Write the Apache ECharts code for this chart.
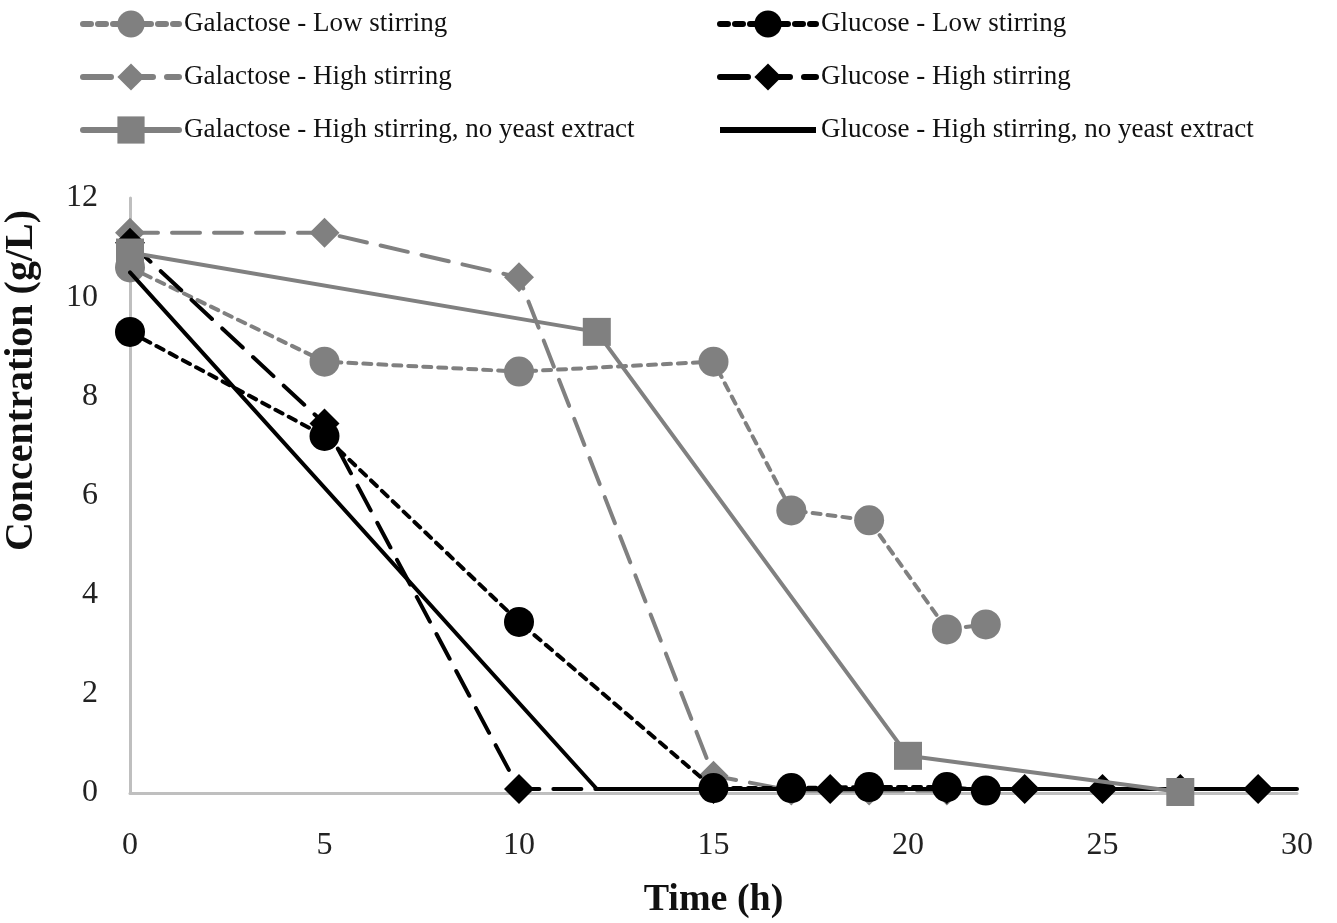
<!DOCTYPE html>
<html>
<head>
<meta charset="utf-8">
<title>Sugar consumption</title>
<script src="https://cdn.jsdelivr.net/npm/echarts@6/dist/echarts.min.js"></script>
<style>
  html, body { margin: 0; padding: 0; background: #fff; }
  #main { width: 1337px; height: 923px; }
</style>
</head>
<body>
<div id="main"></div>
<script>
// time points (h) and concentrations (g/L)
const galLowT = [0, 5, 10, 15, 17, 19, 21, 22]
const galLowC = [10.6, 8.7, 8.5, 8.7, 5.7, 5.5, 3.3, 3.4]

const galHighT = [0, 5, 10, 15, 17, 19, 21]
const galHighC = [11.3, 11.3, 10.4, 0.35, 0.05, 0.05, 0.05]

const galNoYeastT = [0, 12, 20, 27]
const galNoYeastC = [10.9, 9.3, 0.75, 0.02]

const gluLowT = [0, 5, 10, 15, 17, 19, 21, 22]
const gluLowC = [9.3, 7.2, 3.45, 0.1, 0.1, 0.12, 0.12, 0.05]

const gluHighT = [0, 5, 10, 15, 18, 21, 23, 25, 27, 29]
const gluHighC = [11.1, 7.45, 0.08, 0.08, 0.08, 0.08, 0.08, 0.08, 0.08, 0.08]

const gluNoYeastT = [0, 12, 20, 27, 30]
const gluNoYeastC = [10.5, 0.08, 0.08, 0.08, 0.08]

const xTicks = { min: 0, max: 30, step: 5 }
const yTicks = { min: 0, max: 12, step: 2 }

const GREY = '#808080'
const BLACK = '#000000'
const serif = '"Liberation Serif", "DejaVu Serif", serif'
// plain bar used as legend icon for the series that has no markers
const barIcon = 'path://M0,0L100,0L100,6L0,6Z'

function pairs (t, c) {
  return t.map((v, i) => [v, c[i]])
}

function makeSeries (name, t, c, color, dash, symbol, size, z) {
  return {
    name: name,
    type: 'line',
    data: pairs(t, c),
    symbol: symbol,
    symbolSize: size,
    showSymbol: symbol !== 'none',
    z: z,
    clip: false,
    itemStyle: { color: color },
    lineStyle: { color: color, width: 4, type: dash, cap: 'round' },
    emphasis: { disabled: true }
  }
}

function makeLegend (left, names) {
  return {
    orient: 'vertical',
    left: left,
    top: 2,
    itemWidth: 96,
    itemHeight: 34,
    itemGap: 19,
    lineStyle: { width: 6 },
    textStyle: { fontFamily: serif, fontSize: 27, color: '#111', lineHeight: 34 },
    data: names
  }
}

let chart = echarts.init(document.getElementById('main'))
let option = {
  backgroundColor: '#fff',
  animation: false,
  textStyle: { fontFamily: serif },
  legend: [
    makeLegend(75, ['Galactose - Low stirring', 'Galactose - High stirring', 'Galactose - High stirring, no yeast extract']),
    makeLegend(712, ['Glucose - Low stirring', 'Glucose - High stirring',
      { name: 'Glucose - High stirring, no yeast extract', icon: barIcon }])
  ],
  grid: {
    left: 130,
    right: 40,
    top: 198,
    bottom: 130,
    outerBoundsMode: 'none'
  },
  xAxis: {
    type: 'value',
    min: xTicks.min,
    max: xTicks.max,
    interval: xTicks.step,
    name: 'Time (h)',
    nameLocation: 'middle',
    nameGap: 88,
    nameTextStyle: { fontFamily: serif, fontSize: 38, fontWeight: 'bold', color: '#111' },
    axisLine: { show: true, lineStyle: { color: '#bfbfbf', width: 3 } },
    axisTick: { show: false },
    splitLine: { show: false },
    axisLabel: { fontFamily: serif, fontSize: 32, color: '#222', margin: 37 }
  },
  yAxis: {
    type: 'value',
    min: yTicks.min,
    max: yTicks.max,
    interval: yTicks.step,
    name: 'Concentration (g/L)',
    nameLocation: 'middle',
    nameGap: 88,
    nameRotate: 90,
    nameTextStyle: { fontFamily: serif, fontSize: 40, fontWeight: 'bold', color: '#111', padding: [0, 0, 0, 230] },
    axisLine: { show: true, lineStyle: { color: '#bfbfbf', width: 3 } },
    axisTick: { show: false },
    splitLine: { show: false },
    axisLabel: { fontFamily: serif, fontSize: 32, color: '#222', margin: 32 }
  },
  series: [
    makeSeries('Galactose - Low stirring', galLowT, galLowC, GREY, [8, 7], 'circle', 30, 3),
    makeSeries('Glucose - Low stirring', gluLowT, gluLowC, BLACK, [8, 7], 'circle', 30, 6),
    makeSeries('Galactose - High stirring', galHighT, galHighC, GREY, [28, 14], 'diamond', 30, 2),
    makeSeries('Glucose - High stirring', gluHighT, gluHighC, BLACK, [28, 14], 'diamond', 30, 5),
    makeSeries('Galactose - High stirring, no yeast extract', galNoYeastT, galNoYeastC, GREY, 'solid', 'rect', 28, 7),
    makeSeries('Glucose - High stirring, no yeast extract', gluNoYeastT, gluNoYeastC, BLACK, 'solid', 'none', 0, 4)
  ]
}
option && chart.setOption(option)
</script>
</body>
</html>
